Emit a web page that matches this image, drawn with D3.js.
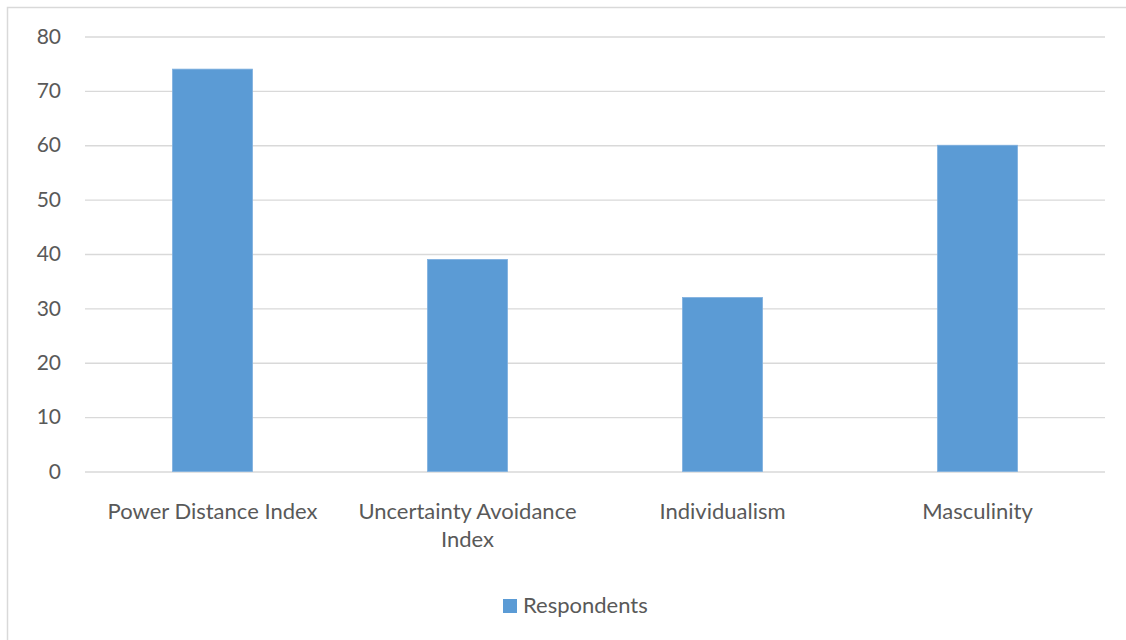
<!DOCTYPE html>
<html>
<head>
<meta charset="utf-8">
<script src="https://cdn.jsdelivr.net/npm/d3@7"></script>
<style>
  body { margin: 0; background: #fff; }
  text { font-family: Lato, "Open Sans", sans-serif; fill: #595959; }
</style>
</head>
<body>
<svg id="chart" width="1126" height="640"></svg>
<script>
// data
const categories = ["Power Distance Index", "Uncertainty Avoidance Index", "Individualism", "Masculinity"];
const respondents = [74, 39, 32, 60];
const yTicks = [0, 10, 20, 30, 40, 50, 60, 70, 80];
const seriesName = "Respondents";

const svg = d3.select("svg#chart");
const margin = { left: 85, right: 21, top: 36.5, bottom: 168.5 };
const width = 1126 - margin.left - margin.right;
const height = 640 - margin.top - margin.bottom;
const barColor = "#5B9BD5";

// chart border (right and bottom edges run off the page)
svg.append("rect")
    .attr("x", 7.5)
    .attr("y", 7.5)
    .attr("width", 1140)
    .attr("height", 660)
    .attr("fill", "none")
    .attr("stroke", "#D9D9D9")
    .attr("stroke-width", 1.5);

const plot = svg.append("g")
    .attr("transform", `translate(${margin.left}, ${margin.top})`);

const x = d3.scaleBand()
    .domain(categories)
    .range([0, width])
    .paddingInner(0.686)
    .paddingOuter(0.343);
const y = d3.scaleLinear().domain([0, 80]).range([height, 0]);

// gridlines
plot.append("g")
    .call(d3.axisLeft(y).tickValues(yTicks).tickSize(-width).tickFormat(""))
    .call(g => g.select(".domain").remove())
    .call(g => g.selectAll("line").attr("stroke", "#D9D9D9").attr("stroke-width", 1.3));

// y tick labels
plot.append("g")
    .call(d3.axisLeft(y).tickValues(yTicks).tickSize(0).tickPadding(24))
    .call(g => g.select(".domain").remove())
    .call(g => g.selectAll("text")
        .style("font-size", "21px")
        .attr("fill", "#595959")
        .attr("font-family", "Lato, 'Open Sans', sans-serif"));

// bars
plot.selectAll("rect.bar")
    .data(respondents)
    .join("rect")
    .attr("class", "bar")
    .attr("x", (d, i) => x(categories[i]))
    .attr("y", d => y(d))
    .attr("width", x.bandwidth())
    .attr("height", d => y(0) - y(d))
    .attr("fill", barColor)
    .attr("stroke", "#7FB0DF")
    .attr("stroke-width", 0.8);

// x axis labels, wrapped
const maxLabelWidth = 245;
const xLabels = plot.append("g")
    .attr("transform", `translate(0, ${height})`);
categories.forEach(cat => {
    const t = xLabels.append("text")
        .attr("x", x(cat) + x.bandwidth() / 2)
        .attr("y", 47)
        .attr("text-anchor", "middle")
        .style("font-size", "22px");
    const words = cat.split(" ");
    let line = [];
    let tspan = t.append("tspan").attr("x", x(cat) + x.bandwidth() / 2).attr("dy", 0);
    words.forEach(w => {
        line.push(w);
        tspan.text(line.join(" "));
        if (tspan.node().getComputedTextLength() > maxLabelWidth && line.length > 1) {
            line.pop();
            tspan.text(line.join(" "));
            line = [w];
            tspan = t.append("tspan")
                .attr("x", x(cat) + x.bandwidth() / 2)
                .attr("dy", 28)
                .text(w);
        }
    });
});

// legend
const legend = svg.append("g")
    .attr("transform", "translate(503, 599)");
legend.append("rect")
    .attr("width", 14)
    .attr("height", 14)
    .attr("fill", barColor);
legend.append("text")
    .text(seriesName)
    .attr("x", 20)
    .attr("y", 14)
    .style("font-size", "22px");
</script>
</body>
</html>
